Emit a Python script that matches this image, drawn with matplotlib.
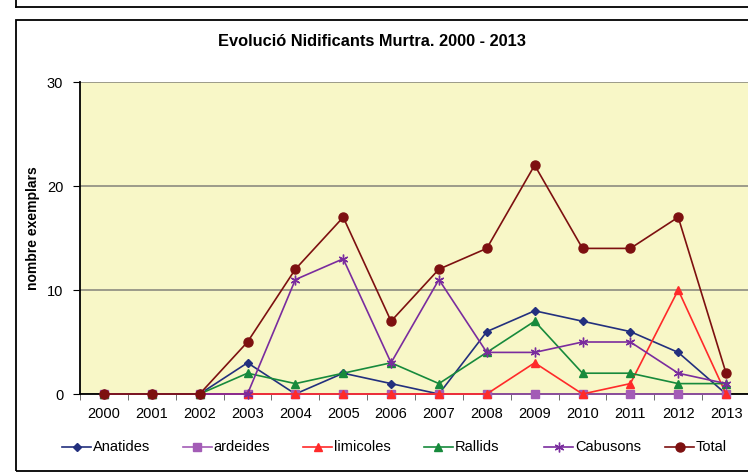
import matplotlib
matplotlib.use("Agg")
import matplotlib.pyplot as plt
import numpy as np
from matplotlib.lines import Line2D
from matplotlib.patches import Rectangle

plt.rcParams['font.family'] = ['Liberation Sans', 'DejaVu Sans']

years = ['2000', '2001', '2002', '2003', '2004', '2005', '2006',
         '2007', '2008', '2009', '2010', '2011', '2012', '2013']
anatides = [0, 0, 0, 3, 0, 2, 1, 0, 6, 8, 7, 6, 4, 0]
ardeides = [0, 0, 0, 0, 0, 0, 0, 0, 0, 0, 0, 0, 0, 0]
limicoles = [0, 0, 0, 0, 0, 0, 0, 0, 0, 3, 0, 1, 10, 0]
rallids = [0, 0, 0, 2, 1, 2, 3, 1, 4, 7, 2, 2, 1, 1]
cabusons = [0, 0, 0, 0, 11, 13, 3, 11, 4, 4, 5, 5, 2, 1]
total = [0, 0, 0, 5, 12, 17, 7, 12, 14, 22, 14, 14, 17, 2]

series = [
    ('Anatides', anatides, '#23307E', 'D', 4.5),
    ('ardeides', ardeides, '#A35CB6', 's', 5.5),
    ('limicoles', limicoles, '#FF2A2A', '^', 6),
    ('Rallids', rallids, '#178A3C', '^', 6),
    ('Cabusons', cabusons, '#7A2C9E', (6, 2, 0), 7),
    ('Total', total, '#7D1010', 'o', 6.5),
]

W, H = 748, 473
fig = plt.figure(figsize=(W / 100, H / 100), dpi=100)

# frames (previous chart bottom + this chart's border)
fig.add_artist(Line2D([16 / W, 1.01], [1 - 7 / H, 1 - 7 / H], color='black', lw=1.3, transform=fig.transFigure))
fig.add_artist(Line2D([16 / W, 16 / W], [1.01, 1 - 7 / H], color='black', lw=1.3, transform=fig.transFigure))
fig.add_artist(Rectangle((16 / W, 1 - 471 / H), 1.0, (471 - 20) / H, fill=False, ec='black', lw=1.3,
                         transform=fig.transFigure))

ax = fig.add_axes([80 / W, 1 - 394 / H, 670 / W, (394 - 82) / H])
ax.set_facecolor('#F8F7C7')
x = np.arange(len(years))
for name, vals, col, mk, ms in series:
    ax.plot(x, vals, color=col, lw=1.2, marker=mk, markersize=ms, markerfacecolor=col,
            markeredgecolor=col, clip_on=False, zorder=3)

ax.set_xlim(-0.5, len(years) - 0.5)
ax.set_ylim(0, 30)
ax.set_yticks([0, 10, 20, 30])
ax.set_xticks(x)
ax.set_xticklabels(years)
ax.set_xticks(np.arange(-0.5, len(years)), minor=True)
ax.tick_params(axis='x', which='major', length=0, pad=9, labelsize=10.5)
ax.tick_params(axis='x', which='minor', length=4, direction='out', color='#555555')
ax.tick_params(axis='y', length=5, direction='out', labelsize=10.5, pad=7)
ax.grid(axis='y', color='#8C8C80', lw=1.2, zorder=0)
ax.set_axisbelow(True)
for s in ['top', 'right']:
    ax.spines[s].set_visible(False)
ax.spines['left'].set_linewidth(1.3)
ax.spines['bottom'].set_linewidth(1.3)

fig.text(33 / W, 1 - 228 / H, 'nombre exemplars', rotation=90, ha='center', va='center',
         fontsize=10, fontweight='bold')
fig.text(372 / W, 1 - 41 / H, 'Evolució Nidificants Murtra. 2000 - 2013', ha='center', va='center',
         fontsize=11.8, fontweight='bold')

# legend
for i, (name, vals, col, mk, ms) in enumerate(series):
    x0 = 62 + i * 120.6
    y0 = 1 - 447 / H
    fig.add_artist(Line2D([x0 / W, (x0 + 29) / W], [y0, y0], color=col, lw=1.2,
                          transform=fig.transFigure))
    fig.add_artist(Line2D([(x0 + 14.5) / W], [y0], color=col, marker=mk, markersize=ms, lw=0,
                          markerfacecolor=col, markeredgecolor=col, transform=fig.transFigure))
    fig.text((x0 + 31) / W, y0, name, ha='left', va='center', fontsize=10.5)

fig.savefig('out.png', dpi=100)
